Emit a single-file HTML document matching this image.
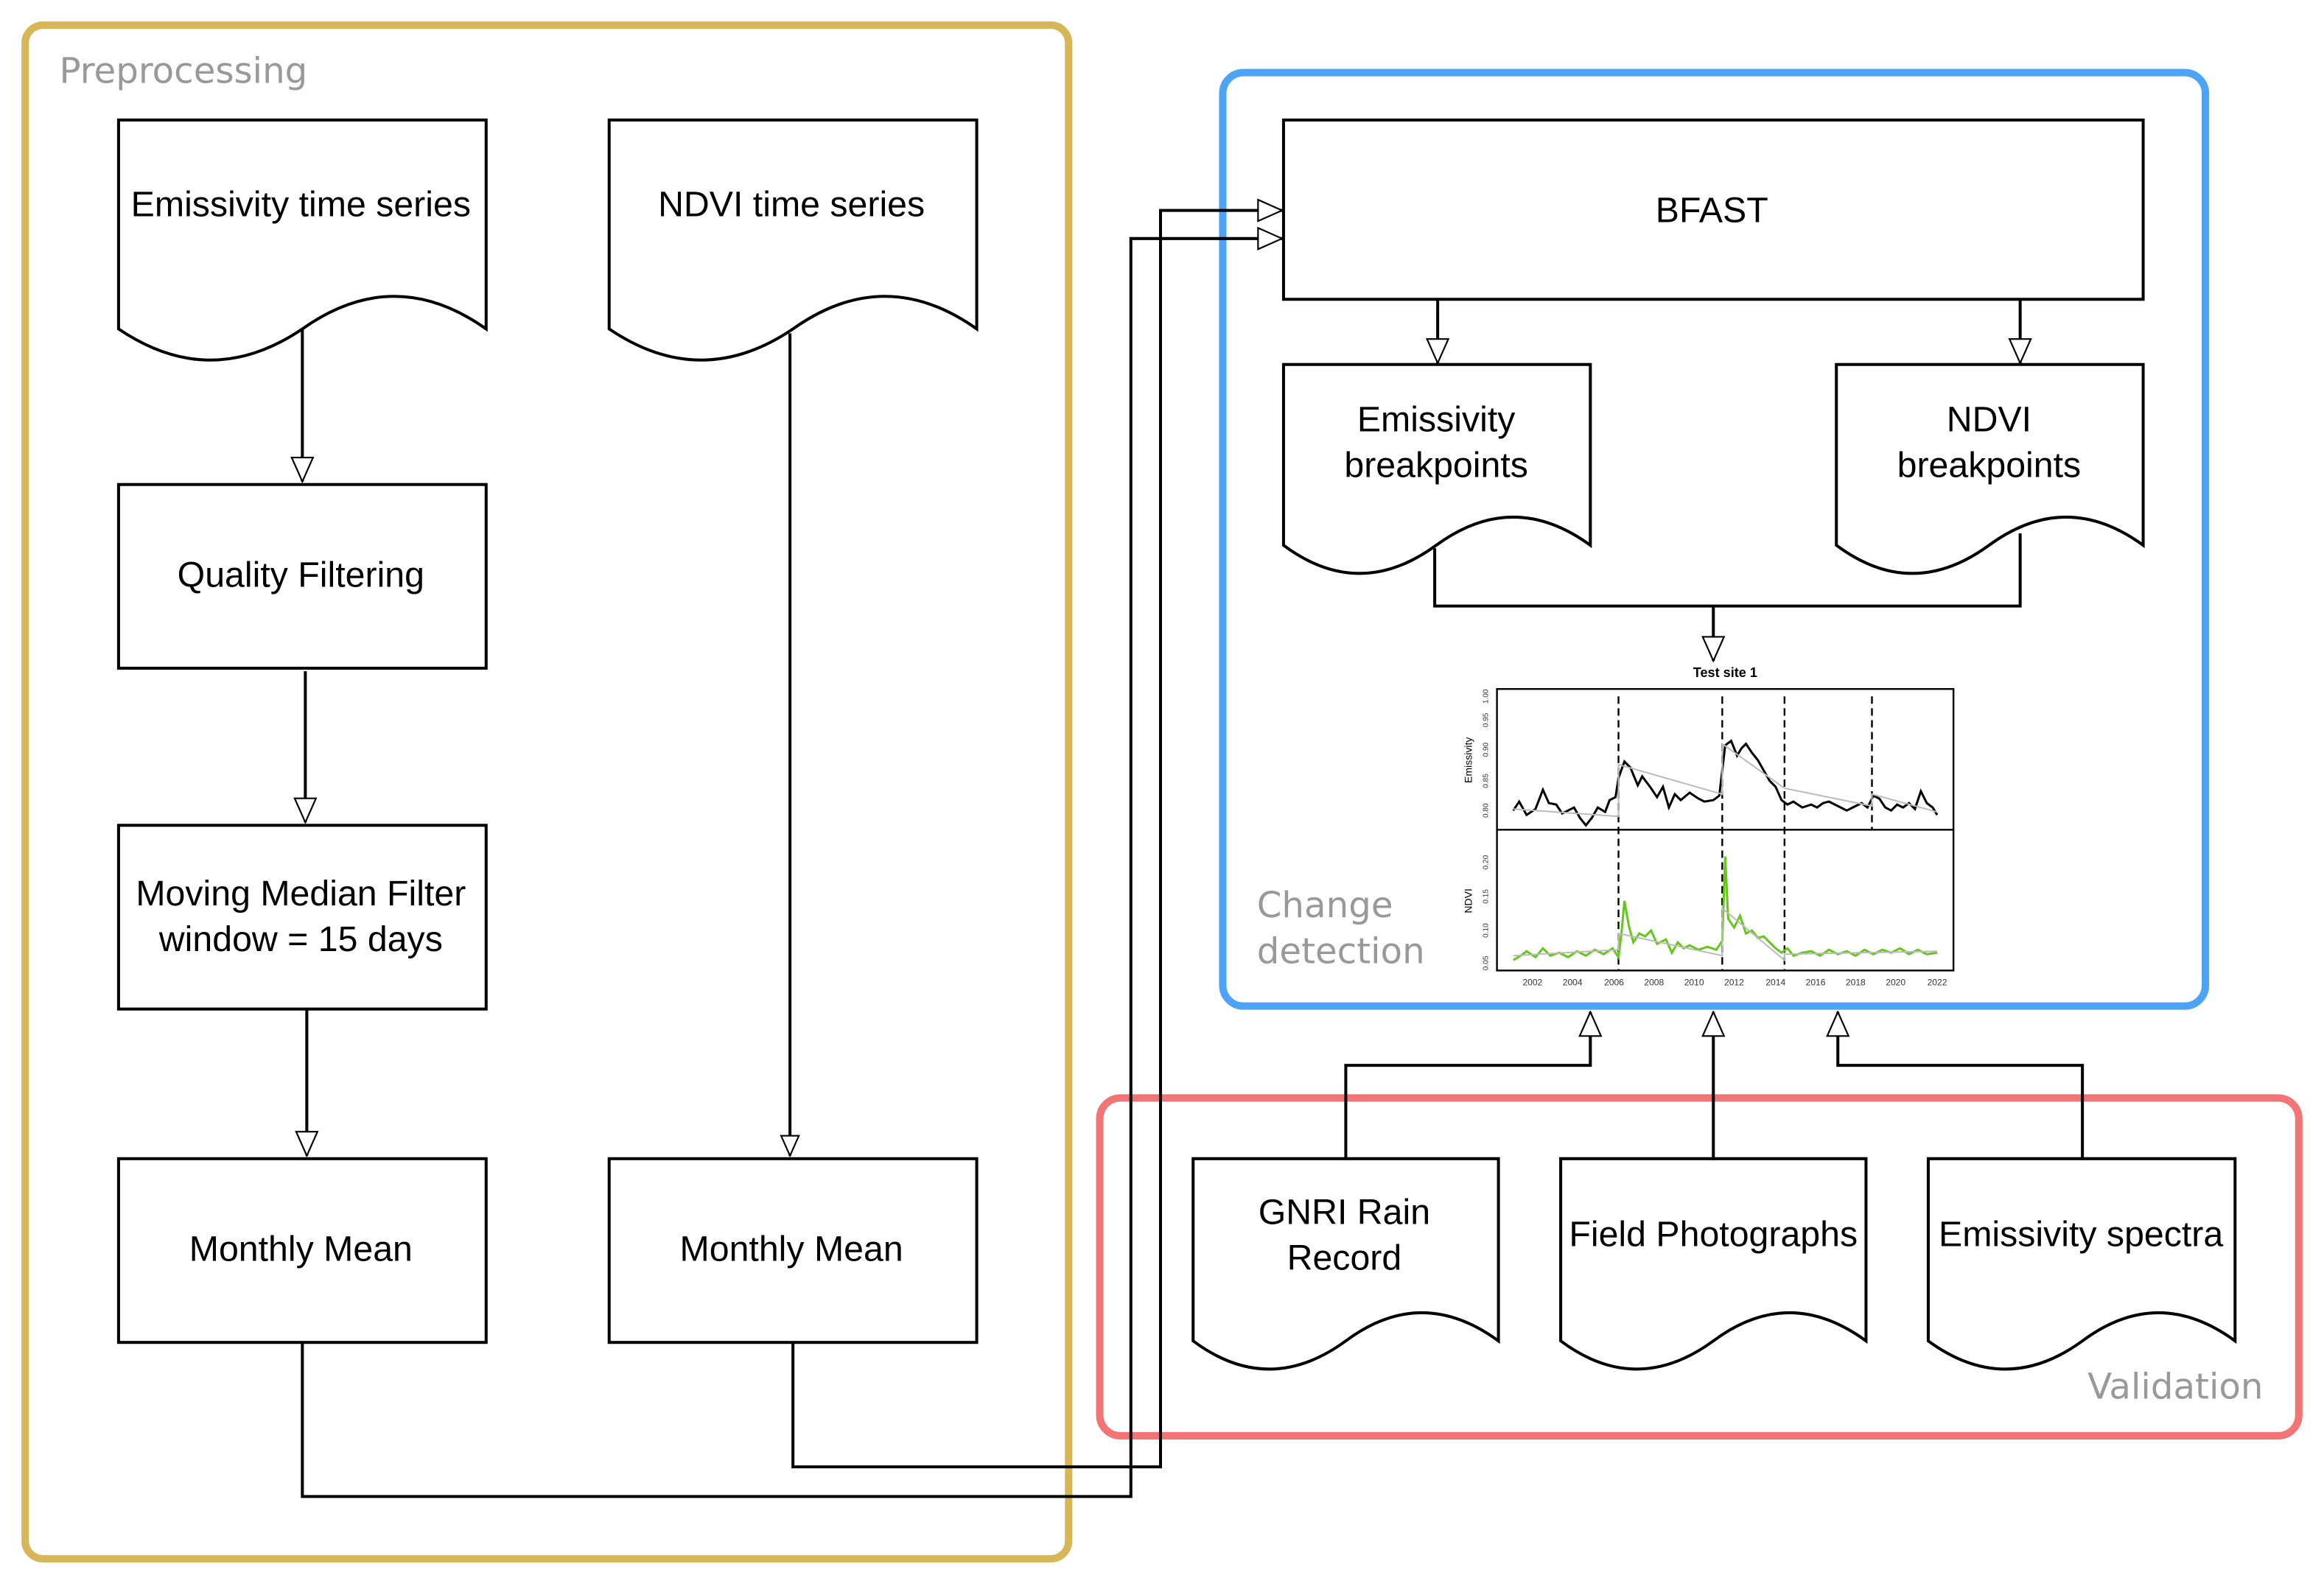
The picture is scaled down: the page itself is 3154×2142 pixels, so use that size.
<!DOCTYPE html>
<html><head><meta charset="utf-8"><style>html,body{margin:0;padding:0;background:#fff}svg{display:block}</style></head>
<body>
<svg width="3154" height="2142" viewBox="0 0 1568 1065" preserveAspectRatio="none" xmlns="http://www.w3.org/2000/svg" font-family="Liberation Sans, sans-serif">
<defs>
<marker id="ah" viewBox="0 0 20 20" refX="19" refY="10" markerWidth="15" markerHeight="15" markerUnits="userSpaceOnUse" orient="auto"><path d="M1,2 L19,10 L1,18 Z" fill="#fff" stroke="#000" stroke-width="1.4"/></marker>
<marker id="ah2" viewBox="0 0 20 20" refX="19" refY="10" markerWidth="18" markerHeight="18" markerUnits="userSpaceOnUse" orient="auto"><path d="M1,2 L19,10 L1,18 Z" fill="#fff" stroke="#000" stroke-width="1.2"/></marker>
</defs>
<rect x="17" y="17" width="704" height="1035" rx="12" fill="none" stroke="#D6B656" stroke-width="5"/>
<text x="40" y="56" font-size="24" fill="#999" font-family="DejaVu Sans, sans-serif">Preprocessing</text>
<rect x="825" y="49" width="663" height="630" rx="14" fill="none" stroke="#4DA3F5" stroke-width="5"/>
<text x="848" y="619" font-size="24" fill="#999" font-family="DejaVu Sans, sans-serif">Change</text>
<text x="848" y="650" font-size="24" fill="#999" font-family="DejaVu Sans, sans-serif">detection</text>
<rect x="742" y="741" width="809" height="228" rx="14" fill="none" stroke="#F27474" stroke-width="5"/>
<text x="1527" y="944" font-size="24" fill="#999" text-anchor="end" font-family="DejaVu Sans, sans-serif">Validation</text>

<g fill="#fff" stroke="#000" stroke-width="2">
<path d="M80,81 H328 V222 Q266,178 204,222 Q142,264 80,222 Z"/>
<path d="M411,81 H659 V222 Q597,178 535,222 Q473,264 411,222 Z"/>
<rect x="80" y="327" width="248" height="124"/>
<rect x="80" y="557" width="248" height="124"/>
<rect x="80" y="782" width="248" height="124"/>
<rect x="411" y="782" width="248" height="124"/>
<rect x="866" y="81" width="580" height="121"/>
<path d="M866,246 H1073 V368 Q1021,330 969,368 Q917,406 866,368 Z"/>
<path d="M1239,246 H1446 V368 Q1394,330 1342,368 Q1290,406 1239,368 Z"/>
<path d="M805,782 H1011 V905 Q959,867 908,905 Q856,943 805,905 Z"/>
<path d="M1053,782 H1259 V905 Q1207,867 1156,905 Q1104,943 1053,905 Z"/>
<path d="M1301,782 H1508 V905 Q1456,867 1405,905 Q1353,943 1301,905 Z"/>
</g>
<g font-size="24" text-anchor="middle" fill="#000">
<text x="203" y="146">Emissivity time series</text>
<text x="534" y="146">NDVI time series</text>
<text x="203" y="396">Quality Filtering</text>
<text x="203" y="611">Moving Median Filter</text>
<text x="203" y="642">window = 15 days</text>
<text x="203" y="851">Monthly Mean</text>
<text x="534" y="851">Monthly Mean</text>
<text x="1155" y="150">BFAST</text>
<text x="969" y="291">Emissivity</text>
<text x="969" y="322">breakpoints</text>
<text x="1342" y="291">NDVI</text>
<text x="1342" y="322">breakpoints</text>
<text x="907" y="826">GNRI Rain</text>
<text x="907" y="857">Record</text>
<text x="1156" y="841">Field Photographs</text>
<text x="1404" y="841">Emissivity spectra</text>
</g>
<g fill="none" stroke="#000" stroke-width="2">
<path d="M204,222 V325" marker-end="url(#ah2)"/>
<path d="M206,453 V555" marker-end="url(#ah2)"/>
<path d="M207,681 V780" marker-end="url(#ah2)"/>
<path d="M533,225 V780" marker-end="url(#ah)"/>
<path d="M204,906 V1010 H763 V161 H865" marker-end="url(#ah2)"/>
<path d="M535,906 V990 H783 V142 H865" marker-end="url(#ah2)"/>
<path d="M970,202 V245" marker-end="url(#ah2)"/>
<path d="M1363,202 V245" marker-end="url(#ah2)"/>
<path d="M968,370 V409 H1363 V360"/>
<path d="M1156,409 V446" marker-end="url(#ah2)"/>
<path d="M908,782 V719 H1073 V683" marker-end="url(#ah2)"/>
<path d="M1156,782 V683" marker-end="url(#ah2)"/>
<path d="M1405,782 V719 H1240 V683" marker-end="url(#ah2)"/>
</g>
<g>
<text x="1164" y="457" font-size="9" font-weight="bold" text-anchor="middle">Test site 1</text>
<rect x="1010" y="465" width="308" height="190" fill="#fff" stroke="#000" stroke-width="1.2"/>
<line x1="1010" y1="560" x2="1318" y2="560" stroke="#000" stroke-width="1.2"/>
<g stroke="#000" stroke-width="1.2" stroke-dasharray="5,3">
<line x1="1092" y1="470" x2="1092" y2="655"/><line x1="1162" y1="470" x2="1162" y2="655"/>
<line x1="1204" y1="470" x2="1204" y2="655"/><line x1="1263" y1="470" x2="1263" y2="560"/>
</g>
<polyline fill="none" stroke="#000" stroke-width="1.5" points="1021,547 1025,541 1030,550 1036,546 1041,533 1045,542 1050,543 1054,549 1058,547 1062,545 1066,552 1070,557 1074,552 1078,545 1083,548 1086,540 1090,538 1092,525 1096,514 1100,518 1105,530 1108,524 1114,532 1118,538 1122,531 1126,545 1130,536 1134,540 1140,535 1146,539 1150,541 1156,540 1160,537 1162,520 1164,503 1168,500 1172,510 1175,505 1178,502 1182,508 1186,513 1190,520 1194,527 1198,531 1202,540 1206,543 1210,541 1216,545 1222,543 1226,545 1230,542 1234,541 1240,544 1246,547 1250,545 1256,542 1260,545 1264,537 1268,539 1272,545 1276,547 1280,543 1284,545 1288,542 1292,546 1296,534 1300,542 1304,545 1307,550"/>
<polyline fill="none" stroke="#bbb" stroke-width="1" points="1021,546 1092,551 1092,516 1162,536 1162,502 1204,532 1263,544 1263,536 1307,548"/>
<polyline fill="none" stroke="#66c71a" stroke-width="1.5" points="1021,648 1026,645 1030,642 1036,646 1041,640 1046,645 1052,643 1058,646 1064,642 1070,645 1076,641 1082,644 1088,640 1092,646 1094,630 1096,608 1099,625 1102,636 1106,630 1110,632 1114,628 1118,637 1124,634 1128,643 1132,636 1136,640 1140,638 1146,641 1152,639 1158,641 1162,635 1164,578 1166,620 1170,626 1174,618 1178,630 1182,628 1186,633 1190,632 1194,636 1198,640 1202,643 1206,640 1210,645 1216,643 1222,642 1228,645 1234,641 1240,644 1246,642 1252,645 1258,641 1264,644 1270,641 1276,643 1282,640 1288,644 1294,641 1300,644 1307,643"/>
<polyline fill="none" stroke="#bbb" stroke-width="1" points="1021,645 1092,641 1092,630 1162,645 1162,613 1204,648 1204,644 1307,642"/>
<g font-size="6" text-anchor="middle" fill="#333">
<text x="1034" y="665">2002</text><text x="1061" y="665">2004</text><text x="1089" y="665">2006</text><text x="1116" y="665">2008</text><text x="1143" y="665">2010</text><text x="1170" y="665">2012</text><text x="1198" y="665">2014</text><text x="1225" y="665">2016</text><text x="1252" y="665">2018</text><text x="1279" y="665">2020</text><text x="1307" y="665">2022</text>
</g>
<text transform="translate(993,513) rotate(-90)" font-size="7" text-anchor="middle">Emissivity</text>
<text transform="translate(993,608) rotate(-90)" font-size="7" text-anchor="middle">NDVI</text>
<g font-size="5" fill="#333" text-anchor="middle">
<text transform="translate(1004,470) rotate(-90)">1.00</text><text transform="translate(1004,486) rotate(-90)">0.95</text><text transform="translate(1004,506) rotate(-90)">0.90</text><text transform="translate(1004,527) rotate(-90)">0.85</text><text transform="translate(1004,547) rotate(-90)">0.80</text>
<text transform="translate(1004,582) rotate(-90)">0.20</text><text transform="translate(1004,605) rotate(-90)">0.15</text><text transform="translate(1004,628) rotate(-90)">0.10</text><text transform="translate(1004,650) rotate(-90)">0.05</text>
</g>
</g>
</svg>
</body></html>
